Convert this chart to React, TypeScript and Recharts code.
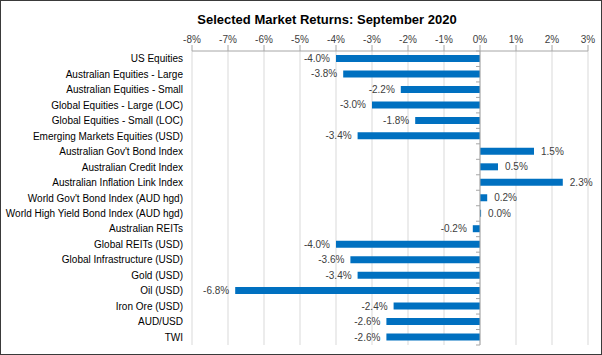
import { BarChart, Bar, XAxis, YAxis, CartesianGrid, ReferenceLine, LabelList } from "recharts";

const categories = [
  "US Equities",
  "Australian Equities - Large",
  "Australian Equities - Small",
  "Global Equities - Large (LOC)",
  "Global Equities - Small (LOC)",
  "Emerging Markets Equities (USD)",
  "Australian Gov't Bond Index",
  "Australian Credit Index",
  "Australian Inflation Link Index",
  "World Gov't Bond Index (AUD hgd)",
  "World High Yield Bond Index (AUD hgd)",
  "Australian REITs",
  "Global REITs (USD)",
  "Global Infrastructure (USD)",
  "Gold (USD)",
  "Oil (USD)",
  "Iron Ore (USD)",
  "AUD/USD",
  "TWI",
];

// monthly returns, %
const returns = [-4.0, -3.8, -2.2, -3.0, -1.8, -3.4, 1.5, 0.5, 2.3, 0.2, 0.03, -0.2, -4.0, -3.6, -3.4, -6.8, -2.4, -2.6, -2.6];

const xTicks = [-8, -7, -6, -5, -4, -3, -2, -1, 0, 1, 2, 3];

const data = categories.map((name, i) => ({ name, value: returns[i] }));

const FONT = "'Liberation Sans', Arial, sans-serif";

// zero line with the small tick marks between categories, like Excel
function ZeroAxis(props: any) {
  const { x1, y1, x2, y2 } = props;
  const n = categories.length;
  const step = (y2 - y1) / n;
  const marks = [];
  for (let i = 0; i <= n; i++) {
    const y = y1 + step * i;
    marks.push(<line key={i} x1={x1 - 4} x2={x1} y1={y} y2={y} stroke="#a6a6a6" />);
  }
  return (
    <g>
      <line x1={x1} y1={y1} x2={x2} y2={y2} stroke="#a6a6a6" />
      {marks}
    </g>
  );
}

function CategoryTick(props: any) {
  const { x, y, payload } = props;
  return (
    <text x={x} y={y} dy="0.35em" textAnchor="end" fontSize={10} fontFamily={FONT} fill="#000">
      {payload.value}
    </text>
  );
}

function ValueLabel(props: any) {
  const { x, y, width, height, value } = props;
  const left = Math.min(x, x + width);
  const right = Math.max(x, x + width);
  const neg = value < 0;
  return (
    <text
      x={neg ? left - 6 : right + 7}
      y={y + height / 2}
      dy="0.35em"
      textAnchor={neg ? "end" : "start"}
      fontSize={10}
      fontFamily={FONT}
      fill="#404040"
    >
      {value.toFixed(1) + "%"}
    </text>
  );
}

export default function App() {
  return (
    <div
      style={{
        position: "absolute",
        left: 0,
        top: 0,
        width: 602,
        height: 355,
        boxSizing: "border-box",
        border: "1.5px solid #3a3a3a",
        background: "#fff",
        fontFamily: FONT,
      }}
    >
      <div
        style={{
          position: "absolute",
          top: 11,
          left: 0,
          width: 652,
          textAlign: "center",
          fontWeight: "bold",
          fontSize: 13,
          color: "#000",
        }}
      >
        Selected Market Returns: September 2020
      </div>
      <div style={{ position: "absolute", left: -1.5, top: -1.5 }}>
        <BarChart
          width={602}
          height={355}
          data={data}
          layout="vertical"
          margin={{ top: 26, right: 14, bottom: 10, left: 0 }}
          barCategoryGap={4}
        >
          <CartesianGrid horizontal={false} stroke="#d9d9d9" />
          <XAxis
            type="number"
            orientation="top"
            domain={[-8, 3]}
            ticks={xTicks}
            interval={0}
            height={25}
            tickSize={6}
            tickMargin={2}
            tickFormatter={(v: number) => v + "%"}
            stroke="#a6a6a6"
            tick={{ fontSize: 10, fill: "#404040", fontFamily: FONT }}
          />
          <YAxis
            type="category"
            dataKey="name"
            width={192}
            axisLine={false}
            tickLine={false}
            tickSize={0}
            tickMargin={9}
            interval={0}
            tick={<CategoryTick />}
          />
          <Bar dataKey="value" fill="#0070c0" barSize={7} isAnimationActive={false}>
            <LabelList dataKey="value" content={<ValueLabel />} />
          </Bar>
          <ReferenceLine x={0} shape={<ZeroAxis />} />
        </BarChart>
      </div>
    </div>
  );
}
